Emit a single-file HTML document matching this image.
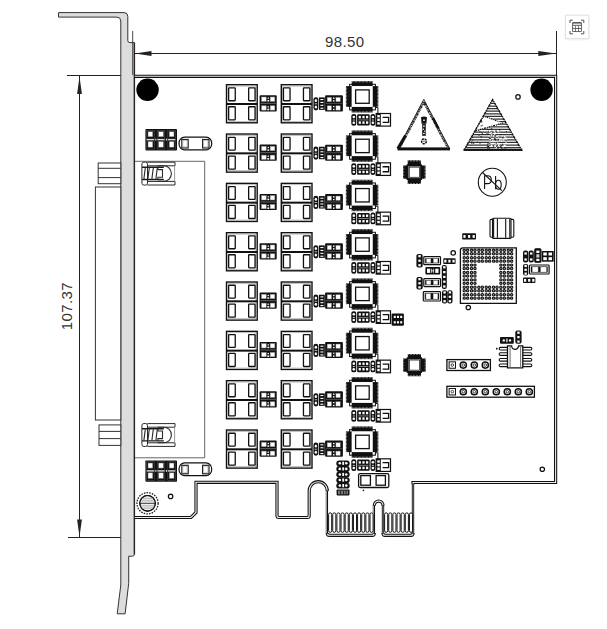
<!DOCTYPE html>
<html><head><meta charset="utf-8"><style>html,body{margin:0;padding:0;background:#fff;width:607px;height:629px;overflow:hidden}svg{display:block}</style></head>
<body><svg width="607" height="629" viewBox="0 0 607 629">
<rect width="607" height="629" fill="#fff"/>
<g stroke="#222" stroke-width="1" fill="none">
<line x1="67" y1="75.5" x2="121" y2="75.5"/>
<line x1="68" y1="537.5" x2="121" y2="537.5"/>
<line x1="79.5" y1="76" x2="79.5" y2="537"/>
<line x1="135" y1="53.5" x2="556" y2="53.5"/>
<line x1="556.5" y1="31" x2="556.5" y2="76"/>
</g>
<g fill="#222">
<path d="M79.5,76.5 L77.1,94 L81.9,94 Z"/>
<path d="M79.5,537 L77.1,519.5 L81.9,519.5 Z"/>
<path d="M134.8,53.5 L151.5,51.1 L151.5,55.9 Z"/>
<path d="M556,53.5 L538.3,51.1 L538.3,55.9 Z"/>
</g>
<text x="344.7" y="47" font-family="Liberation Sans, sans-serif" font-size="15" letter-spacing="0.4" fill="#333" text-anchor="middle">98.50</text>
<text transform="translate(72.2,306.2) rotate(-90)" font-family="Liberation Sans, sans-serif" font-size="15" letter-spacing="0.4" fill="#333" text-anchor="middle">107.37</text>
<path d="M58.5,12.6 H124 Q127.8,12.6 127.8,16.4 V40.6 Q127.8,42.6 129.8,42.6 H134.2 V554.5 Q134.2,556.2 132.5,556.2 H128.7 V583.4 L125.1,613.8 H117.2 L120.8,585 V21 Q120.8,17.1 116.8,17.1 H58.5 Z" fill="#dcdddd" stroke="#333" stroke-width="1"/>
<line x1="132.7" y1="31" x2="132.7" y2="75" stroke="#333" stroke-width="0.9"/>
<line x1="134.5" y1="42.6" x2="134.5" y2="554.6" stroke="#2b2222" stroke-width="1.2"/>
<g stroke="#333" stroke-width="1" fill="#fff">
<rect x="98.2" y="163" width="22.6" height="20.7"/>
<line x1="98.2" y1="168.3" x2="120.8" y2="168.3"/>
<line x1="98.2" y1="177.6" x2="120.8" y2="177.6"/>
<rect x="95.4" y="187" width="25.4" height="233"/>
<rect x="99" y="424.9" width="21.8" height="20.5"/>
<line x1="99" y1="431.4" x2="120.8" y2="431.4"/>
<line x1="99" y1="438.6" x2="120.8" y2="438.6"/>
</g>
<path d="M134.8,76.3 H555.6 V482.5 H413 V533.3 Q413,535.3 411,535.3 H385 Q383,535.3 383,533.3 V505.45 A4.35,4.35 0 0 0 374.3,505.45 V533.3 Q374.3,535.3 372.3,535.3 H329.3 Q327.3,535.3 327.3,533.3 V490.75 A9.05,9.05 0 0 0 309.2,490.75 V515.5 Q309.2,517.5 307.2,517.5 H279 Q277,517.5 277,515.5 V482.3 H196 V512.5 L191,517.5 H134.8" fill="none" stroke="#111" stroke-width="3.2"/>
<path d="M134.8,76.3 H555.6 V482.5 H413 V533.3 Q413,535.3 411,535.3 H385 Q383,535.3 383,533.3 V505.45 A4.35,4.35 0 0 0 374.3,505.45 V533.3 Q374.3,535.3 372.3,535.3 H329.3 Q327.3,535.3 327.3,533.3 V490.75 A9.05,9.05 0 0 0 309.2,490.75 V515.5 Q309.2,517.5 307.2,517.5 H279 Q277,517.5 277,515.5 V482.3 H196 V512.5 L191,517.5 H134.8" fill="none" stroke="#eee" stroke-width="1.1"/>
<rect x="411.30" y="484.2" width="3.4" height="48.8" fill="#fff"/>
<line x1="413" y1="483.6" x2="413" y2="533.8" stroke="#111" stroke-width="1.5"/>
<rect x="325.60" y="491" width="3.4" height="42.0" fill="#fff"/>
<line x1="327.3" y1="490.4" x2="327.3" y2="533.8" stroke="#111" stroke-width="1.5"/>
<rect x="372.60" y="505.6" width="3.4" height="27.4" fill="#fff"/>
<line x1="374.3" y1="505.0" x2="374.3" y2="533.8" stroke="#111" stroke-width="1.5"/>
<rect x="381.30" y="505.6" width="3.4" height="27.4" fill="#fff"/>
<line x1="383" y1="505.0" x2="383" y2="533.8" stroke="#111" stroke-width="1.5"/>
<path d="M135,161.3 H204.7 V457.8 H135" fill="none" stroke="#555" stroke-width="0.9"/>
<g stroke="#111" stroke-width="1" fill="#fff">
<rect x="328.60" y="512.9" width="3.1" height="19.4" rx="1.5"/>
<rect x="332.74" y="512.9" width="3.1" height="19.4" rx="1.5"/>
<rect x="336.88" y="512.9" width="3.1" height="19.4" rx="1.5"/>
<rect x="341.02" y="512.9" width="3.1" height="19.4" rx="1.5"/>
<rect x="345.16" y="512.9" width="3.1" height="19.4" rx="1.5"/>
<rect x="349.30" y="512.9" width="3.1" height="19.4" rx="1.5"/>
<rect x="353.44" y="512.9" width="3.1" height="19.4" rx="1.5"/>
<rect x="357.58" y="512.9" width="3.1" height="19.4" rx="1.5"/>
<rect x="361.72" y="512.9" width="3.1" height="19.4" rx="1.5"/>
<rect x="365.86" y="512.9" width="3.1" height="19.4" rx="1.5"/>
<rect x="370.00" y="512.9" width="3.1" height="19.4" rx="1.5"/>
<rect x="384.60" y="512.9" width="3.1" height="19.4" rx="1.5"/>
<rect x="388.74" y="512.9" width="3.1" height="19.4" rx="1.5"/>
<rect x="392.88" y="512.9" width="3.1" height="19.4" rx="1.5"/>
<rect x="397.02" y="512.9" width="3.1" height="19.4" rx="1.5"/>
<rect x="401.16" y="512.9" width="3.1" height="19.4" rx="1.5"/>
<rect x="405.30" y="512.9" width="3.1" height="19.4" rx="1.5"/>
<rect x="409.44" y="512.9" width="3.1" height="19.4" rx="1.5"/>
</g>
<defs><g id="row"><rect x="226.5" y="0.7" width="30.7" height="38.1" fill="#fff" stroke="#111" stroke-width="1.4"/><rect x="227.90" y="2.1" width="27.9" height="35.3" fill="none" stroke="#999" stroke-width="0.6"/><line x1="226.5" y1="20" x2="257.20" y2="20" stroke="#111" stroke-width="2"/><rect x="228.65" y="3.95" width="6.6" height="12.8" rx="0.5" fill="#fff" stroke="#111" stroke-width="1.3"/><rect x="248.65" y="3.95" width="6.4" height="12.8" rx="0.5" fill="#fff" stroke="#111" stroke-width="1.3"/><rect x="228.65" y="22.75" width="6.6" height="13.1" rx="0.5" fill="#fff" stroke="#111" stroke-width="1.3"/><rect x="248.65" y="22.75" width="6.4" height="13.1" rx="0.5" fill="#fff" stroke="#111" stroke-width="1.3"/><rect x="281.3" y="0.7" width="30.7" height="38.1" fill="#fff" stroke="#111" stroke-width="1.4"/><rect x="282.70" y="2.1" width="27.9" height="35.3" fill="none" stroke="#999" stroke-width="0.6"/><line x1="281.3" y1="20" x2="312.00" y2="20" stroke="#111" stroke-width="2"/><rect x="283.45" y="3.95" width="6.6" height="12.8" rx="0.5" fill="#fff" stroke="#111" stroke-width="1.3"/><rect x="303.45" y="3.95" width="6.4" height="12.8" rx="0.5" fill="#fff" stroke="#111" stroke-width="1.3"/><rect x="283.45" y="22.75" width="6.6" height="13.1" rx="0.5" fill="#fff" stroke="#111" stroke-width="1.3"/><rect x="303.45" y="22.75" width="6.4" height="13.1" rx="0.5" fill="#fff" stroke="#111" stroke-width="1.3"/><rect x="259.6" y="11.25" width="17.1" height="16.2" rx="0.9" fill="#111"/><line x1="260.5" y1="19.35" x2="275.8" y2="19.35" stroke="#999" stroke-width="0.6"/><rect x="261.6" y="13.0" width="4.6" height="4.3" fill="#fff" stroke="#999" stroke-width="0.5"/><rect x="270.2" y="13.0" width="4.6" height="4.3" fill="#fff" stroke="#999" stroke-width="0.5"/><rect x="261.6" y="21.8" width="4.6" height="4.3" fill="#fff" stroke="#999" stroke-width="0.5"/><rect x="270.2" y="21.8" width="4.6" height="4.3" fill="#fff" stroke="#999" stroke-width="0.5"/><g fill="#fff"><rect x="267.6" y="13.6" width="1.4" height="1.2"/><rect x="267.4" y="16" width="1.8" height="1.5"/><rect x="267.5" y="22.3" width="1.5" height="1.2"/><rect x="267.3" y="24.7" width="1.9" height="1.6"/></g><rect x="313.4" y="13.2" width="4.9" height="13.2" rx="2.4" fill="#111"/><ellipse cx="315.85" cy="16.6" rx="1.2" ry="1.5" fill="#fff"/><ellipse cx="315.85" cy="23" rx="1.2" ry="1.5" fill="#fff"/><rect x="314.6" y="19.5" width="2.5" height="0.7" fill="#fff"/><rect x="318.9" y="13.4" width="5.9" height="12.5" fill="#111"/><rect x="320.4" y="15.0" width="3" height="1.1" fill="#fff"/><rect x="320.4" y="17.9" width="3" height="1.1" fill="#fff"/><rect x="320.4" y="20.8" width="3" height="1.1" fill="#fff"/><rect x="320.4" y="23.7" width="3" height="1.1" fill="#fff"/><rect x="325.1" y="11.3" width="17.8" height="16.1" rx="1" fill="#111"/><rect x="327.2" y="13.4" width="4.3" height="4.3" fill="#fff" stroke="#888" stroke-width="0.4"/><rect x="335.9" y="13.4" width="4.3" height="4.3" fill="#fff" stroke="#888" stroke-width="0.4"/><rect x="327.2" y="21.8" width="4.3" height="4.3" fill="#fff" stroke="#888" stroke-width="0.4"/><rect x="335.9" y="21.8" width="4.3" height="4.3" fill="#fff" stroke="#888" stroke-width="0.4"/><g fill="#fff"><rect x="333" y="13.5" width="1.5" height="1.4"/><rect x="333" y="16.2" width="1.5" height="1.4"/><rect x="333" y="22" width="1.5" height="1.2"/><rect x="333" y="24.8" width="1.5" height="1.4"/></g><line x1="326" y1="19.4" x2="342.3" y2="19.4" stroke="#777" stroke-width="0.6"/><g fill="#111"><rect x="351.7" y="-2.9" width="20.9" height="5.0"/><rect x="351.7" y="22.8" width="20.9" height="5.7"/><rect x="345.9" y="2.1" width="5.8" height="20.7"/><rect x="372.6" y="2.1" width="5.7" height="20.7"/></g><g fill="#fff"><rect x="352.40" y="-2.9" width="0.4" height="1.2"/><rect x="352.40" y="27.3" width="0.4" height="1.2"/><rect x="345.9" y="2.80" width="1.2" height="0.4"/><rect x="377.1" y="2.80" width="1.2" height="0.4"/><rect x="353.78" y="-2.9" width="0.4" height="1.2"/><rect x="353.78" y="27.3" width="0.4" height="1.2"/><rect x="345.9" y="4.18" width="1.2" height="0.4"/><rect x="377.1" y="4.18" width="1.2" height="0.4"/><rect x="355.16" y="-2.9" width="0.4" height="1.2"/><rect x="355.16" y="27.3" width="0.4" height="1.2"/><rect x="345.9" y="5.56" width="1.2" height="0.4"/><rect x="377.1" y="5.56" width="1.2" height="0.4"/><rect x="356.54" y="-2.9" width="0.4" height="1.2"/><rect x="356.54" y="27.3" width="0.4" height="1.2"/><rect x="345.9" y="6.94" width="1.2" height="0.4"/><rect x="377.1" y="6.94" width="1.2" height="0.4"/><rect x="357.92" y="-2.9" width="0.4" height="1.2"/><rect x="357.92" y="27.3" width="0.4" height="1.2"/><rect x="345.9" y="8.32" width="1.2" height="0.4"/><rect x="377.1" y="8.32" width="1.2" height="0.4"/><rect x="359.30" y="-2.9" width="0.4" height="1.2"/><rect x="359.30" y="27.3" width="0.4" height="1.2"/><rect x="345.9" y="9.70" width="1.2" height="0.4"/><rect x="377.1" y="9.70" width="1.2" height="0.4"/><rect x="360.68" y="-2.9" width="0.4" height="1.2"/><rect x="360.68" y="27.3" width="0.4" height="1.2"/><rect x="345.9" y="11.08" width="1.2" height="0.4"/><rect x="377.1" y="11.08" width="1.2" height="0.4"/><rect x="362.06" y="-2.9" width="0.4" height="1.2"/><rect x="362.06" y="27.3" width="0.4" height="1.2"/><rect x="345.9" y="12.46" width="1.2" height="0.4"/><rect x="377.1" y="12.46" width="1.2" height="0.4"/><rect x="363.44" y="-2.9" width="0.4" height="1.2"/><rect x="363.44" y="27.3" width="0.4" height="1.2"/><rect x="345.9" y="13.84" width="1.2" height="0.4"/><rect x="377.1" y="13.84" width="1.2" height="0.4"/><rect x="364.82" y="-2.9" width="0.4" height="1.2"/><rect x="364.82" y="27.3" width="0.4" height="1.2"/><rect x="345.9" y="15.22" width="1.2" height="0.4"/><rect x="377.1" y="15.22" width="1.2" height="0.4"/><rect x="366.20" y="-2.9" width="0.4" height="1.2"/><rect x="366.20" y="27.3" width="0.4" height="1.2"/><rect x="345.9" y="16.60" width="1.2" height="0.4"/><rect x="377.1" y="16.60" width="1.2" height="0.4"/><rect x="367.58" y="-2.9" width="0.4" height="1.2"/><rect x="367.58" y="27.3" width="0.4" height="1.2"/><rect x="345.9" y="17.98" width="1.2" height="0.4"/><rect x="377.1" y="17.98" width="1.2" height="0.4"/><rect x="368.96" y="-2.9" width="0.4" height="1.2"/><rect x="368.96" y="27.3" width="0.4" height="1.2"/><rect x="345.9" y="19.36" width="1.2" height="0.4"/><rect x="377.1" y="19.36" width="1.2" height="0.4"/><rect x="370.34" y="-2.9" width="0.4" height="1.2"/><rect x="370.34" y="27.3" width="0.4" height="1.2"/><rect x="345.9" y="20.74" width="1.2" height="0.4"/><rect x="377.1" y="20.74" width="1.2" height="0.4"/><rect x="371.72" y="-2.9" width="0.4" height="1.2"/><rect x="371.72" y="27.3" width="0.4" height="1.2"/><rect x="345.9" y="22.12" width="1.2" height="0.4"/><rect x="377.1" y="22.12" width="1.2" height="0.4"/></g><rect x="349.6" y="0.3" width="25.8" height="25.6" fill="none" stroke="#111" stroke-width="1"/><rect x="351.9" y="2.3" width="20.5" height="20.3" fill="#fff"/><rect x="355.6" y="5.9" width="13.6" height="13.4" fill="#fff" stroke="#111" stroke-width="1.3"/><path d="M375.4,23.5 H377.9 V29.5" fill="none" stroke="#111" stroke-width="1"/><rect x="351.3" y="29.9" width="5" height="11.8" rx="2.2" fill="#111"/><circle cx="353.8" cy="33" r="1.3" fill="#fff"/><circle cx="353.8" cy="38.7" r="1.3" fill="#fff"/><rect x="352.8" y="35.6" width="2" height="0.8" fill="#fff"/><rect x="357.1" y="30.3" width="12.6" height="11.2" rx="1.2" fill="#111"/><rect x="358.7" y="31.9" width="2.2" height="2.4" fill="#fff"/><rect x="362.4" y="31.9" width="2.2" height="2.4" fill="#fff"/><rect x="366.0" y="31.9" width="2.2" height="2.4" fill="#fff"/><rect x="358.7" y="37.4" width="2.2" height="2.4" fill="#fff"/><rect x="362.4" y="37.4" width="2.2" height="2.4" fill="#fff"/><rect x="366.0" y="37.4" width="2.2" height="2.4" fill="#fff"/><rect x="358.3" y="35.6" width="10.2" height="0.7" fill="#aaa"/><rect x="370.5" y="29.9" width="4.8" height="11.8" rx="2.2" fill="#111"/><circle cx="372.9" cy="33" r="1.3" fill="#fff"/><circle cx="372.9" cy="38.7" r="1.3" fill="#fff"/><rect x="371.9" y="35.6" width="2" height="0.8" fill="#fff"/><rect x="376.2" y="29.5" width="14.3" height="12.6" fill="#fff" stroke="#111" stroke-width="1.2"/><rect x="376.2" y="29.5" width="4.6" height="12.6" fill="#111"/><rect x="377.3" y="31" width="2.5" height="2.4" fill="#fff"/><rect x="377.3" y="34.6" width="2.5" height="2.4" fill="#fff"/><rect x="377.3" y="38.2" width="2.5" height="2.4" fill="#fff"/><path d="M382.6,33.4 H388.6 V38.4 H382.6" fill="none" stroke="#111" stroke-width="1.3"/></g></defs>
<use href="#row" y="84.00"/>
<use href="#row" y="133.33"/>
<use href="#row" y="182.66"/>
<use href="#row" y="231.99"/>
<use href="#row" y="281.32"/>
<use href="#row" y="330.65"/>
<use href="#row" y="379.98"/>
<use href="#row" y="429.31"/>
<circle cx="147.55" cy="89.8" r="11.2" fill="#000"/>
<circle cx="541.6" cy="89.8" r="11.2" fill="#000"/>
<circle cx="147.55" cy="503.3" r="7.8" fill="#eee" stroke="#111" stroke-width="1.1"/>
<g stroke="#bbb" stroke-width="1.3">
<line x1="140.5" y1="498.5" x2="154.6" y2="498.5"/>
<line x1="140.5" y1="500.8" x2="154.6" y2="500.8"/>
<line x1="140.5" y1="505.8" x2="154.6" y2="505.8"/>
<line x1="140.5" y1="508.1" x2="154.6" y2="508.1"/>
</g>
<line x1="139.7" y1="503.3" x2="155.4" y2="503.3" stroke="#222" stroke-width="0.9"/>
<circle cx="147.55" cy="503.3" r="7.8" fill="none" stroke="#111" stroke-width="1.1"/>
<circle cx="147.55" cy="503.3" r="10.6" fill="none" stroke="#222" stroke-width="1.3" stroke-dasharray="1.6 1.1"/>
<circle cx="170.6" cy="496.4" r="2.2" fill="#fff" stroke="#111" stroke-width="1.25"/>
<circle cx="542.3" cy="469.3" r="2.2" fill="#fff" stroke="#111" stroke-width="1.25"/>
<circle cx="518" cy="96.9" r="2.2" fill="#fff" stroke="#111" stroke-width="1.25"/>
<circle cx="453.2" cy="252.9" r="2.2" fill="#fff" stroke="#111" stroke-width="1.25"/>
<circle cx="468.3" cy="307.5" r="2.2" fill="#fff" stroke="#111" stroke-width="1.25"/>
<rect x="145.40" y="129.1" width="31.6" height="21.3" rx="0.8" fill="#111"/><rect x="148.00" y="131.70" width="4.8" height="5.1" fill="#fff" stroke="#666" stroke-width="0.5"/><rect x="148.00" y="141.50" width="4.8" height="5.7" fill="#fff" stroke="#666" stroke-width="0.5"/><rect x="146.60" y="138.90" width="7.6" height="1.4" fill="#ddd"/><rect x="146.60" y="130.50" width="7.6" height="18.6" fill="none" stroke="#555" stroke-width="0.5"/><rect x="158.60" y="131.70" width="4.8" height="5.1" fill="#fff" stroke="#666" stroke-width="0.5"/><rect x="158.60" y="141.50" width="4.8" height="5.7" fill="#fff" stroke="#666" stroke-width="0.5"/><rect x="157.20" y="138.90" width="7.6" height="1.4" fill="#ddd"/><rect x="157.20" y="130.50" width="7.6" height="18.6" fill="none" stroke="#555" stroke-width="0.5"/><rect x="169.20" y="131.70" width="4.8" height="5.1" fill="#fff" stroke="#666" stroke-width="0.5"/><rect x="169.20" y="141.50" width="4.8" height="5.7" fill="#fff" stroke="#666" stroke-width="0.5"/><rect x="167.80" y="138.90" width="7.6" height="1.4" fill="#ddd"/><rect x="167.80" y="130.50" width="7.6" height="18.6" fill="none" stroke="#555" stroke-width="0.5"/><rect x="155.30" y="138.70" width="1" height="1.8" fill="#fff"/><rect x="165.90" y="138.70" width="1" height="1.8" fill="#fff"/>
<rect x="179.00" y="137.10" width="32.7" height="12.8" rx="5.6" ry="6.2" fill="#fff" stroke="#111" stroke-width="1.2"/><rect x="181.80" y="139.50" width="6.4" height="8.5" fill="#fff" stroke="#222" stroke-width="1.2"/><rect x="202.60" y="139.50" width="6.4" height="8.5" fill="#fff" stroke="#222" stroke-width="1.2"/><rect x="183.00" y="140.70" width="4" height="6.1" fill="none" stroke="#aaa" stroke-width="0.5"/><rect x="203.80" y="140.70" width="4" height="6.1" fill="none" stroke="#aaa" stroke-width="0.5"/>
<rect x="145.40" y="460.4" width="31.6" height="21.3" rx="0.8" fill="#111"/><rect x="148.00" y="463.00" width="4.8" height="5.1" fill="#fff" stroke="#666" stroke-width="0.5"/><rect x="148.00" y="472.80" width="4.8" height="5.7" fill="#fff" stroke="#666" stroke-width="0.5"/><rect x="146.60" y="470.20" width="7.6" height="1.4" fill="#ddd"/><rect x="146.60" y="461.80" width="7.6" height="18.6" fill="none" stroke="#555" stroke-width="0.5"/><rect x="158.60" y="463.00" width="4.8" height="5.1" fill="#fff" stroke="#666" stroke-width="0.5"/><rect x="158.60" y="472.80" width="4.8" height="5.7" fill="#fff" stroke="#666" stroke-width="0.5"/><rect x="157.20" y="470.20" width="7.6" height="1.4" fill="#ddd"/><rect x="157.20" y="461.80" width="7.6" height="18.6" fill="none" stroke="#555" stroke-width="0.5"/><rect x="169.20" y="463.00" width="4.8" height="5.1" fill="#fff" stroke="#666" stroke-width="0.5"/><rect x="169.20" y="472.80" width="4.8" height="5.7" fill="#fff" stroke="#666" stroke-width="0.5"/><rect x="167.80" y="470.20" width="7.6" height="1.4" fill="#ddd"/><rect x="167.80" y="461.80" width="7.6" height="18.6" fill="none" stroke="#555" stroke-width="0.5"/><rect x="155.30" y="470.00" width="1" height="1.8" fill="#fff"/><rect x="165.90" y="470.00" width="1" height="1.8" fill="#fff"/>
<rect x="179.00" y="462.90" width="32.7" height="12.8" rx="5.6" ry="6.2" fill="#fff" stroke="#111" stroke-width="1.2"/><rect x="181.80" y="465.30" width="6.4" height="8.5" fill="#fff" stroke="#222" stroke-width="1.2"/><rect x="202.60" y="465.30" width="6.4" height="8.5" fill="#fff" stroke="#222" stroke-width="1.2"/><rect x="183.00" y="466.50" width="4" height="6.1" fill="none" stroke="#aaa" stroke-width="0.5"/><rect x="203.80" y="466.50" width="4" height="6.1" fill="none" stroke="#aaa" stroke-width="0.5"/>
<g transform="translate(141.4,161.6)" fill="none" stroke="#2a2a2a" stroke-width="1"><rect x="0.5" y="0.5" width="5.6" height="23" rx="2" fill="#fff"/><path d="M6,0.6 H33.6 V4.2 H6 M6,19.8 H33.6 V23.4 H6"/><line x1="33.2" y1="4.2" x2="33.2" y2="19.8" stroke="#999"/><path d="M0.6,5.7 H22.4 M0.6,17.9 H22.4" stroke-width="1.4" stroke="#1a1a1a"/><path d="M16.2,4.2 H22.4 A7.6,7.8 0 0 1 22.4,19.8 H16.2" stroke-width="1.1"/><path d="M16.5,5.7 V8 H21.1 V15.6 H16.5 V17.9" stroke-width="1.1"/><line x1="3.9" y1="6.3" x2="2.5" y2="17.3" stroke-width="1.1"/><line x1="7.9" y1="6.3" x2="6.5" y2="17.3" stroke-width="1.1"/><line x1="11.9" y1="6.3" x2="10.5" y2="17.3" stroke-width="1.1"/><line x1="15.9" y1="6.3" x2="14.5" y2="17.3" stroke-width="1.1"/></g>
<g transform="translate(141.4,423.0)" fill="none" stroke="#2a2a2a" stroke-width="1"><rect x="0.5" y="0.5" width="5.6" height="23" rx="2" fill="#fff"/><path d="M6,0.6 H33.6 V4.2 H6 M6,19.8 H33.6 V23.4 H6"/><line x1="33.2" y1="4.2" x2="33.2" y2="19.8" stroke="#999"/><path d="M0.6,5.7 H22.4 M0.6,17.9 H22.4" stroke-width="1.4" stroke="#1a1a1a"/><path d="M16.2,4.2 H22.4 A7.6,7.8 0 0 1 22.4,19.8 H16.2" stroke-width="1.1"/><path d="M16.5,5.7 V8 H21.1 V15.6 H16.5 V17.9" stroke-width="1.1"/><line x1="3.9" y1="6.3" x2="2.5" y2="17.3" stroke-width="1.1"/><line x1="7.9" y1="6.3" x2="6.5" y2="17.3" stroke-width="1.1"/><line x1="11.9" y1="6.3" x2="10.5" y2="17.3" stroke-width="1.1"/><line x1="15.9" y1="6.3" x2="14.5" y2="17.3" stroke-width="1.1"/></g>
<path d="M398,148.6 L423.8,99.4 L449.6,148.6" fill="none" stroke="#1a1a1a" stroke-width="0.9" stroke-linejoin="miter"/>
<path d="M399.9,147.2 L423.8,101.9 L447.7,147.2" fill="none" stroke="#222" stroke-width="2.4" stroke-dasharray="1.4 0.5 0.8 0.4 1.9 0.5 0.6 0.5 1.1 0.6" stroke-linejoin="miter"/>
<path d="M397.8,148.5 L405.5,135.5" stroke="#111" stroke-width="2.8"/>
<path d="M433,118 L438.5,128.5" stroke="#111" stroke-width="2.4"/>
<rect x="397.5" y="147.4" width="52.5" height="3" fill="#111"/>
<path d="M421,117.3 Q424,115.8 427,117.3 L426.4,123.8 H421.6 Z" fill="#111"/>
<path d="M422.2,123.8 H425.8 V135.8 H422.2 Z" fill="#1a1a1a"/>
<g fill="#fff"><rect x="423.3" y="119.5" width="1.4" height="1.6"/><rect x="423" y="125.6" width="1.8" height="1.1"/><rect x="422.6" y="128.6" width="1.4" height="1.2"/><rect x="424.2" y="130.6" width="1.2" height="1.2"/><rect x="423" y="133" width="1.8" height="1"/></g>
<circle cx="424" cy="141.3" r="2.4" fill="#fff" stroke="#111" stroke-width="1.5" stroke-dasharray="2 0.7"/>
<circle cx="424" cy="141.3" r="0.7" fill="#333"/>
<defs><clipPath id="esd"><path d="M492.6,99 L463.5,150.4 H522.3 Z"/></clipPath></defs>
<g clip-path="url(#esd)">
<rect x="460" y="97" width="65" height="56" fill="#fff"/>
<line x1="460" y1="100.80" x2="525" y2="100.80" stroke="#333" stroke-width="1.25"/>
<line x1="460" y1="103.40" x2="525" y2="103.40" stroke="#333" stroke-width="1.25"/>
<line x1="460" y1="106.00" x2="525" y2="106.00" stroke="#333" stroke-width="1.25"/>
<line x1="460" y1="108.60" x2="525" y2="108.60" stroke="#333" stroke-width="1.25"/>
<line x1="460" y1="111.20" x2="525" y2="111.20" stroke="#333" stroke-width="1.25"/>
<line x1="460" y1="113.80" x2="525" y2="113.80" stroke="#333" stroke-width="1.25"/>
<line x1="460" y1="116.40" x2="525" y2="116.40" stroke="#333" stroke-width="1.25"/>
<line x1="460" y1="119.00" x2="525" y2="119.00" stroke="#333" stroke-width="1.25"/>
<line x1="460" y1="121.60" x2="525" y2="121.60" stroke="#333" stroke-width="1.25"/>
<line x1="460" y1="124.20" x2="525" y2="124.20" stroke="#333" stroke-width="1.25"/>
<line x1="460" y1="126.80" x2="525" y2="126.80" stroke="#333" stroke-width="1.25"/>
<line x1="460" y1="129.40" x2="525" y2="129.40" stroke="#333" stroke-width="1.25"/>
<line x1="460" y1="132.00" x2="525" y2="132.00" stroke="#333" stroke-width="1.25"/>
<line x1="460" y1="134.60" x2="525" y2="134.60" stroke="#333" stroke-width="1.25"/>
<line x1="460" y1="137.20" x2="525" y2="137.20" stroke="#333" stroke-width="1.25"/>
<line x1="460" y1="139.80" x2="525" y2="139.80" stroke="#333" stroke-width="1.25"/>
<line x1="460" y1="142.40" x2="525" y2="142.40" stroke="#333" stroke-width="1.25"/>
<line x1="460" y1="145.00" x2="525" y2="145.00" stroke="#333" stroke-width="1.25"/>
<line x1="460" y1="147.60" x2="525" y2="147.60" stroke="#333" stroke-width="1.25"/>
<line x1="460" y1="150.20" x2="525" y2="150.20" stroke="#333" stroke-width="1.25"/>
<path d="M484,116.2 L498,121.3 L503,123.2 L476,131 L475.5,128.5 Z" fill="#fff"/>
<path d="M475,131 L503,123" fill="none" stroke="#111" stroke-width="1.3" stroke-dasharray="2 0.9 1 0.8"/>
<path d="M476,128 L484,116.2 L498,121.3" fill="none" stroke="#111" stroke-width="1.1" stroke-dasharray="1.6 1 0.8 0.9"/>
<g fill="#fff">
<rect x="493.8" y="132.9" width="1.4" height="0.9"/>
<rect x="497.6" y="136.9" width="0.9" height="1.2"/>
<rect x="488.7" y="138.2" width="0.9" height="0.9"/>
<rect x="495.6" y="145.7" width="0.9" height="1.0"/>
<rect x="499.3" y="148.0" width="1.3" height="1.1"/>
<rect x="505.6" y="130.9" width="1.6" height="1.0"/>
<rect x="490.6" y="132.2" width="1.1" height="1.5"/>
<rect x="491.3" y="141.1" width="1.4" height="1.1"/>
<rect x="497.9" y="131.2" width="0.9" height="1.0"/>
<rect x="500.2" y="138.1" width="1.1" height="1.3"/>
<rect x="496.2" y="135.7" width="1.5" height="1.4"/>
<rect x="492.4" y="140.9" width="1.3" height="1.5"/>
<rect x="501.1" y="135.5" width="1.7" height="0.9"/>
<rect x="495.5" y="144.4" width="0.9" height="1.2"/>
<rect x="488.7" y="142.7" width="1.5" height="1.3"/>
<rect x="503.8" y="136.0" width="1.4" height="1.3"/>
<rect x="498.4" y="138.7" width="1.6" height="1.6"/>
<rect x="496.5" y="142.6" width="0.9" height="1.4"/>
<rect x="499.6" y="148.9" width="1.5" height="1.0"/>
<rect x="494.9" y="142.7" width="0.8" height="1.2"/>
<rect x="491.0" y="132.2" width="0.9" height="1.4"/>
<rect x="490.3" y="134.7" width="1.2" height="1.5"/>
<rect x="489.5" y="138.5" width="1.3" height="1.5"/>
<rect x="502.7" y="146.4" width="1.1" height="1.1"/>
<rect x="494.5" y="146.8" width="1.7" height="0.9"/>
<rect x="491.2" y="134.4" width="1.0" height="1.2"/>
<rect x="498.6" y="135.0" width="0.8" height="1.1"/>
<rect x="494.6" y="140.8" width="1.7" height="1.4"/>
<rect x="497.3" y="141.7" width="1.4" height="0.8"/>
<rect x="504.2" y="144.8" width="1.6" height="1.4"/>
<rect x="495.1" y="137.6" width="0.9" height="1.3"/>
<rect x="489.1" y="131.3" width="1.0" height="0.9"/>
<rect x="494.1" y="131.0" width="0.8" height="0.9"/>
<rect x="489.8" y="136.9" width="0.8" height="1.5"/>
<rect x="499.1" y="132.8" width="1.0" height="1.1"/>
<rect x="494.6" y="132.3" width="1.6" height="1.6"/>
<rect x="496.4" y="139.2" width="0.9" height="0.9"/>
<rect x="494.2" y="135.0" width="1.5" height="0.9"/>
<rect x="488.4" y="148.1" width="1.3" height="0.9"/>
<rect x="497.8" y="130.5" width="1.3" height="1.6"/>
<rect x="503.5" y="143.2" width="1.0" height="1.1"/>
<rect x="491.0" y="144.7" width="1.3" height="1.4"/>
<rect x="493.9" y="134.2" width="1.5" height="1.6"/>
<rect x="503.3" y="145.3" width="1.5" height="1.4"/>
<rect x="492.1" y="139.8" width="1.1" height="0.8"/>
<rect x="488.5" y="135.3" width="1.0" height="1.4"/>
<rect x="505.2" y="138.5" width="1.6" height="1.6"/>
<rect x="505.2" y="136.9" width="1.0" height="1.0"/>
<rect x="491.5" y="133.9" width="1.4" height="1.5"/>
<rect x="503.1" y="139.1" width="1.4" height="1.4"/>
<rect x="489.5" y="142.6" width="1.6" height="1.4"/>
<rect x="501.5" y="139.1" width="1.0" height="1.4"/>
<rect x="494.0" y="145.2" width="1.7" height="1.1"/>
<rect x="495.2" y="148.0" width="1.5" height="0.9"/>
<rect x="490.3" y="132.9" width="1.6" height="1.4"/>
<rect x="490.6" y="145.7" width="1.7" height="1.3"/>
<rect x="494.3" y="140.4" width="0.9" height="0.8"/>
<rect x="505.5" y="142.3" width="1.3" height="1.5"/>
<rect x="495.8" y="146.6" width="1.5" height="1.0"/>
<rect x="492.5" y="135.6" width="1.0" height="1.3"/>
<rect x="492.7" y="138.0" width="0.9" height="1.5"/>
<rect x="494.4" y="138.7" width="1.3" height="1.5"/>
<rect x="495.6" y="147.4" width="1.3" height="1.2"/>
<rect x="497.4" y="130.4" width="1.2" height="0.9"/>
<rect x="488.1" y="145.2" width="1.0" height="1.2"/>
<rect x="501.1" y="140.6" width="1.1" height="1.2"/>
<rect x="498.0" y="144.9" width="0.9" height="1.2"/>
<rect x="492.5" y="135.3" width="1.5" height="1.2"/>
<rect x="498.1" y="144.4" width="1.6" height="1.2"/>
<rect x="499.0" y="139.6" width="1.3" height="1.4"/>
</g>
<g fill="#222">
<rect x="495.0" y="139.2" width="1.1" height="1.5"/>
<rect x="500.0" y="146.4" width="1.5" height="0.9"/>
<rect x="497.2" y="147.8" width="1.4" height="0.8"/>
<rect x="488.4" y="137.3" width="0.8" height="0.9"/>
<rect x="487.5" y="142.1" width="1.3" height="1.4"/>
<rect x="489.1" y="143.0" width="1.2" height="0.8"/>
<rect x="503.7" y="148.3" width="0.9" height="1.5"/>
<rect x="494.0" y="138.2" width="1.5" height="1.4"/>
<rect x="489.2" y="137.1" width="1.1" height="1.0"/>
<rect x="489.9" y="134.7" width="1.3" height="0.7"/>
<rect x="497.1" y="137.2" width="0.7" height="1.0"/>
<rect x="498.5" y="138.8" width="0.8" height="1.5"/>
<rect x="501.8" y="148.4" width="0.8" height="0.9"/>
<rect x="486.8" y="144.4" width="0.9" height="0.8"/>
<rect x="494.4" y="147.1" width="1.4" height="0.9"/>
<rect x="489.0" y="147.3" width="1.2" height="1.3"/>
<rect x="487.8" y="129.2" width="1.3" height="1.0"/>
<rect x="487.4" y="147.7" width="1.2" height="1.3"/>
<rect x="487.7" y="146.0" width="0.8" height="1.4"/>
<rect x="495.1" y="135.1" width="1.1" height="1.4"/>
<rect x="491.4" y="130.7" width="1.1" height="0.9"/>
<rect x="488.2" y="131.4" width="0.7" height="0.9"/>
<rect x="492.2" y="134.4" width="1.3" height="0.9"/>
<rect x="496.0" y="131.7" width="1.0" height="0.7"/>
<rect x="491.0" y="128.3" width="1.3" height="1.1"/>
<rect x="489.8" y="138.0" width="1.4" height="0.8"/>
<rect x="502.4" y="137.1" width="1.1" height="1.4"/>
<rect x="493.9" y="138.6" width="1.3" height="1.5"/>
<rect x="492.9" y="145.5" width="1.3" height="1.2"/>
<rect x="494.1" y="135.3" width="0.7" height="0.8"/>
<rect x="487.4" y="143.6" width="0.9" height="0.8"/>
<rect x="487.7" y="145.7" width="1.4" height="1.2"/>
<rect x="491.6" y="133.1" width="0.9" height="1.1"/>
<rect x="489.2" y="137.4" width="0.9" height="1.5"/>
<rect x="505.5" y="139.5" width="0.9" height="1.5"/>
<rect x="492.2" y="135.5" width="0.7" height="1.0"/>
<rect x="495.5" y="138.6" width="0.9" height="1.1"/>
<rect x="486.1" y="133.5" width="0.8" height="1.0"/>
<rect x="486.8" y="128.5" width="0.9" height="0.9"/>
<rect x="497.7" y="139.1" width="1.3" height="1.2"/>
<rect x="500.3" y="146.5" width="1.0" height="1.0"/>
<rect x="505.7" y="131.1" width="1.3" height="1.2"/>
<rect x="486.9" y="145.5" width="1.4" height="1.2"/>
<rect x="500.7" y="145.1" width="0.8" height="1.1"/>
<rect x="496.1" y="145.5" width="1.3" height="1.4"/>
<rect x="497.7" y="146.7" width="1.2" height="1.3"/>
<rect x="490.6" y="128.7" width="0.8" height="1.0"/>
<rect x="488.1" y="145.6" width="1.1" height="1.2"/>
<rect x="498.5" y="142.3" width="1.1" height="0.7"/>
<rect x="502.0" y="143.7" width="1.1" height="1.1"/>
<rect x="499.2" y="129.4" width="1.3" height="0.9"/>
<rect x="487.5" y="133.6" width="1.3" height="0.9"/>
<rect x="500.8" y="148.5" width="1.1" height="1.0"/>
<rect x="495.6" y="142.4" width="1.3" height="1.2"/>
<rect x="498.9" y="129.6" width="0.8" height="0.9"/>
<rect x="500.9" y="134.4" width="1.2" height="0.7"/>
<rect x="487.2" y="133.6" width="1.2" height="1.3"/>
<rect x="499.5" y="134.1" width="1.1" height="1.1"/>
<rect x="495.3" y="130.5" width="1.4" height="0.9"/>
<rect x="505.6" y="147.7" width="0.7" height="1.1"/>
<rect x="479.5" y="143.2" width="1" height="1"/>
<rect x="474.3" y="125.0" width="1" height="1"/>
<rect x="470.9" y="142.6" width="1" height="1"/>
<rect x="470.9" y="133.1" width="1" height="1"/>
<rect x="470.0" y="131.6" width="1" height="1"/>
<rect x="481.3" y="121.4" width="1" height="1"/>
<rect x="479.5" y="131.2" width="1" height="1"/>
<rect x="480.4" y="136.3" width="1" height="1"/>
<rect x="471.2" y="141.3" width="1" height="1"/>
<rect x="474.8" y="118.6" width="1" height="1"/>
<rect x="468.1" y="130.8" width="1" height="1"/>
<rect x="474.3" y="125.9" width="1" height="1"/>
<rect x="470.0" y="126.9" width="1" height="1"/>
<rect x="472.4" y="139.8" width="1" height="1"/>
<rect x="468.0" y="137.5" width="1" height="1"/>
<rect x="479.7" y="121.1" width="1" height="1"/>
<rect x="481.0" y="136.5" width="1" height="1"/>
<rect x="480.6" y="125.5" width="1" height="1"/>
<rect x="473.2" y="128.2" width="1" height="1"/>
<rect x="482.0" y="133.3" width="1" height="1"/>
<rect x="473.0" y="129.1" width="1" height="1"/>
<rect x="471.9" y="119.3" width="1" height="1"/>
<rect x="469.4" y="139.7" width="1" height="1"/>
<rect x="472.0" y="142.3" width="1" height="1"/>
<rect x="471.5" y="124.9" width="1" height="1"/>
<rect x="475.2" y="122.9" width="1" height="1"/>
<rect x="473.2" y="142.9" width="1" height="1"/>
<rect x="480.4" y="139.1" width="1" height="1"/>
<rect x="476.8" y="141.7" width="1" height="1"/>
<rect x="481.2" y="132.3" width="1" height="1"/>
<rect x="478.1" y="119.3" width="1" height="1"/>
<rect x="478.3" y="129.7" width="1" height="1"/>
<rect x="478.5" y="134.8" width="1" height="1"/>
<rect x="472.0" y="119.3" width="1" height="1"/>
<rect x="481.0" y="121.3" width="1" height="1"/>
<rect x="474.6" y="126.9" width="1" height="1"/>
<rect x="472.2" y="137.2" width="1" height="1"/>
<rect x="481.7" y="124.8" width="1" height="1"/>
<rect x="477.2" y="125.8" width="1" height="1"/>
<rect x="475.8" y="128.3" width="1" height="1"/>
</g>
</g>
<path d="M492.6,99.6 L464.2,150 H521.6 Z" fill="none" stroke="#111" stroke-width="1.4" stroke-dasharray="2.5 0.7 1.2 0.8 3 0.6"/>
<rect x="463.5" y="148.8" width="58.8" height="2" fill="#111"/>
<circle cx="492.3" cy="182.3" r="14" fill="none" stroke="#111" stroke-width="1.1"/>
<path d="M484.6,189 V175.8 H487.5 Q491.3,175.8 491.3,179.7 Q491.3,183.6 487.5,183.6 H484.6" fill="none" stroke="#111" stroke-width="1.1"/>
<path d="M495.6,176 V189.2 M495.6,184.5 Q495.6,180.3 498.4,180.3 Q501.2,180.3 501.2,184.7 Q501.2,189.2 498.4,189.2 Q495.6,189.2 495.6,185" fill="none" stroke="#111" stroke-width="1.1"/>
<line x1="482.5" y1="172.5" x2="501.8" y2="190.7" stroke="#111" stroke-width="1.1"/>
<path d="M407.70,160.30 H420.90 V164.60 H421.90 V165.60 H425.60 V178.80 H421.90 V179.80 H420.90 V184.10 H407.70 V179.80 H406.70 V178.80 H403.00 V165.60 H406.70 V164.60 H407.70 Z" fill="#111"/><rect x="406.70" y="164.60" width="15.20" height="15.20" fill="#111"/><g fill="#fff"><rect x="408.50" y="160.30" width="0.45" height="1.1"/><rect x="408.50" y="183.00" width="0.45" height="1.1"/><rect x="403.00" y="166.40" width="1.1" height="0.45"/><rect x="424.50" y="166.40" width="1.1" height="0.45"/><rect x="410.00" y="160.30" width="0.45" height="1.1"/><rect x="410.00" y="183.00" width="0.45" height="1.1"/><rect x="403.00" y="167.90" width="1.1" height="0.45"/><rect x="424.50" y="167.90" width="1.1" height="0.45"/><rect x="411.50" y="160.30" width="0.45" height="1.1"/><rect x="411.50" y="183.00" width="0.45" height="1.1"/><rect x="403.00" y="169.40" width="1.1" height="0.45"/><rect x="424.50" y="169.40" width="1.1" height="0.45"/><rect x="413.00" y="160.30" width="0.45" height="1.1"/><rect x="413.00" y="183.00" width="0.45" height="1.1"/><rect x="403.00" y="170.90" width="1.1" height="0.45"/><rect x="424.50" y="170.90" width="1.1" height="0.45"/><rect x="414.50" y="160.30" width="0.45" height="1.1"/><rect x="414.50" y="183.00" width="0.45" height="1.1"/><rect x="403.00" y="172.40" width="1.1" height="0.45"/><rect x="424.50" y="172.40" width="1.1" height="0.45"/><rect x="416.00" y="160.30" width="0.45" height="1.1"/><rect x="416.00" y="183.00" width="0.45" height="1.1"/><rect x="403.00" y="173.90" width="1.1" height="0.45"/><rect x="424.50" y="173.90" width="1.1" height="0.45"/><rect x="417.50" y="160.30" width="0.45" height="1.1"/><rect x="417.50" y="183.00" width="0.45" height="1.1"/><rect x="403.00" y="175.40" width="1.1" height="0.45"/><rect x="424.50" y="175.40" width="1.1" height="0.45"/><rect x="419.00" y="160.30" width="0.45" height="1.1"/><rect x="419.00" y="183.00" width="0.45" height="1.1"/><rect x="403.00" y="176.90" width="1.1" height="0.45"/><rect x="424.50" y="176.90" width="1.1" height="0.45"/><rect x="420.50" y="160.30" width="0.45" height="1.1"/><rect x="420.50" y="183.00" width="0.45" height="1.1"/><rect x="403.00" y="178.40" width="1.1" height="0.45"/><rect x="424.50" y="178.40" width="1.1" height="0.45"/></g><rect x="408.70" y="166.60" width="11.2" height="11.2" fill="none" stroke="#aaa" stroke-width="0.6"/><rect x="409.60" y="167.50" width="9.4" height="9.4" fill="#fff"/>
<path d="M407.80,353.90 H421.00 V357.50 H422.00 V358.50 H425.80 V371.70 H422.00 V372.70 H421.00 V376.30 H407.80 V372.70 H406.80 V371.70 H403.00 V358.50 H406.80 V357.50 H407.80 Z" fill="#111"/><rect x="406.80" y="357.50" width="15.20" height="15.20" fill="#111"/><g fill="#fff"><rect x="408.60" y="353.90" width="0.45" height="1.1"/><rect x="408.60" y="375.20" width="0.45" height="1.1"/><rect x="403.00" y="359.30" width="1.1" height="0.45"/><rect x="424.70" y="359.30" width="1.1" height="0.45"/><rect x="410.10" y="353.90" width="0.45" height="1.1"/><rect x="410.10" y="375.20" width="0.45" height="1.1"/><rect x="403.00" y="360.80" width="1.1" height="0.45"/><rect x="424.70" y="360.80" width="1.1" height="0.45"/><rect x="411.60" y="353.90" width="0.45" height="1.1"/><rect x="411.60" y="375.20" width="0.45" height="1.1"/><rect x="403.00" y="362.30" width="1.1" height="0.45"/><rect x="424.70" y="362.30" width="1.1" height="0.45"/><rect x="413.10" y="353.90" width="0.45" height="1.1"/><rect x="413.10" y="375.20" width="0.45" height="1.1"/><rect x="403.00" y="363.80" width="1.1" height="0.45"/><rect x="424.70" y="363.80" width="1.1" height="0.45"/><rect x="414.60" y="353.90" width="0.45" height="1.1"/><rect x="414.60" y="375.20" width="0.45" height="1.1"/><rect x="403.00" y="365.30" width="1.1" height="0.45"/><rect x="424.70" y="365.30" width="1.1" height="0.45"/><rect x="416.10" y="353.90" width="0.45" height="1.1"/><rect x="416.10" y="375.20" width="0.45" height="1.1"/><rect x="403.00" y="366.80" width="1.1" height="0.45"/><rect x="424.70" y="366.80" width="1.1" height="0.45"/><rect x="417.60" y="353.90" width="0.45" height="1.1"/><rect x="417.60" y="375.20" width="0.45" height="1.1"/><rect x="403.00" y="368.30" width="1.1" height="0.45"/><rect x="424.70" y="368.30" width="1.1" height="0.45"/><rect x="419.10" y="353.90" width="0.45" height="1.1"/><rect x="419.10" y="375.20" width="0.45" height="1.1"/><rect x="403.00" y="369.80" width="1.1" height="0.45"/><rect x="424.70" y="369.80" width="1.1" height="0.45"/><rect x="420.60" y="353.90" width="0.45" height="1.1"/><rect x="420.60" y="375.20" width="0.45" height="1.1"/><rect x="403.00" y="371.30" width="1.1" height="0.45"/><rect x="424.70" y="371.30" width="1.1" height="0.45"/></g><rect x="408.80" y="359.50" width="11.2" height="11.2" fill="none" stroke="#aaa" stroke-width="0.6"/><rect x="409.70" y="360.40" width="9.4" height="9.4" fill="#fff"/>
<path d="M463,247.8 H516.3 V303.3 H460.4 V250.4 Q460.4,247.8 463,247.8 Z" fill="#fff" stroke="#111" stroke-width="1.3"/>
<g fill="#999" stroke="#111" stroke-width="1.05">
<circle cx="464.20" cy="250.30" r="1.2"/>
<circle cx="464.20" cy="253.75" r="1.2"/>
<circle cx="464.20" cy="257.70" r="1.2"/>
<circle cx="464.20" cy="261.15" r="1.2"/>
<circle cx="464.20" cy="265.10" r="1.2"/>
<circle cx="464.20" cy="268.55" r="1.2"/>
<circle cx="464.20" cy="272.50" r="1.2"/>
<circle cx="464.20" cy="275.95" r="1.2"/>
<circle cx="464.20" cy="279.90" r="1.2"/>
<circle cx="464.20" cy="283.35" r="1.2"/>
<circle cx="464.20" cy="287.30" r="1.2"/>
<circle cx="464.20" cy="290.75" r="1.2"/>
<circle cx="464.20" cy="294.70" r="1.2"/>
<circle cx="464.20" cy="298.15" r="1.2"/>
<circle cx="467.62" cy="250.30" r="1.2"/>
<circle cx="467.62" cy="253.75" r="1.2"/>
<circle cx="467.62" cy="257.70" r="1.2"/>
<circle cx="467.62" cy="261.15" r="1.2"/>
<circle cx="467.62" cy="265.10" r="1.2"/>
<circle cx="467.62" cy="268.55" r="1.2"/>
<circle cx="467.62" cy="272.50" r="1.2"/>
<circle cx="467.62" cy="275.95" r="1.2"/>
<circle cx="467.62" cy="279.90" r="1.2"/>
<circle cx="467.62" cy="283.35" r="1.2"/>
<circle cx="467.62" cy="287.30" r="1.2"/>
<circle cx="467.62" cy="290.75" r="1.2"/>
<circle cx="467.62" cy="294.70" r="1.2"/>
<circle cx="467.62" cy="298.15" r="1.2"/>
<circle cx="471.54" cy="250.30" r="1.2"/>
<circle cx="471.54" cy="253.75" r="1.2"/>
<circle cx="471.54" cy="257.70" r="1.2"/>
<circle cx="471.54" cy="261.15" r="1.2"/>
<circle cx="471.54" cy="265.10" r="1.2"/>
<circle cx="471.54" cy="268.55" r="1.2"/>
<circle cx="471.54" cy="272.50" r="1.2"/>
<circle cx="471.54" cy="275.95" r="1.2"/>
<circle cx="471.54" cy="279.90" r="1.2"/>
<circle cx="471.54" cy="283.35" r="1.2"/>
<circle cx="471.54" cy="287.30" r="1.2"/>
<circle cx="471.54" cy="290.75" r="1.2"/>
<circle cx="471.54" cy="294.70" r="1.2"/>
<circle cx="471.54" cy="298.15" r="1.2"/>
<circle cx="474.96" cy="250.30" r="1.2"/>
<circle cx="474.96" cy="253.75" r="1.2"/>
<circle cx="474.96" cy="257.70" r="1.2"/>
<circle cx="474.96" cy="261.15" r="1.2"/>
<circle cx="474.96" cy="265.10" r="1.2"/>
<circle cx="474.96" cy="268.55" r="1.2"/>
<circle cx="474.96" cy="272.50" r="1.2"/>
<circle cx="474.96" cy="275.95" r="1.2"/>
<circle cx="474.96" cy="279.90" r="1.2"/>
<circle cx="474.96" cy="283.35" r="1.2"/>
<circle cx="474.96" cy="287.30" r="1.2"/>
<circle cx="474.96" cy="290.75" r="1.2"/>
<circle cx="474.96" cy="294.70" r="1.2"/>
<circle cx="474.96" cy="298.15" r="1.2"/>
<circle cx="478.88" cy="250.30" r="1.2"/>
<circle cx="478.88" cy="253.75" r="1.2"/>
<circle cx="478.88" cy="257.70" r="1.2"/>
<circle cx="478.88" cy="261.15" r="1.2"/>
<circle cx="478.88" cy="287.30" r="1.2"/>
<circle cx="478.88" cy="290.75" r="1.2"/>
<circle cx="478.88" cy="294.70" r="1.2"/>
<circle cx="478.88" cy="298.15" r="1.2"/>
<circle cx="482.30" cy="250.30" r="1.2"/>
<circle cx="482.30" cy="253.75" r="1.2"/>
<circle cx="482.30" cy="257.70" r="1.2"/>
<circle cx="482.30" cy="261.15" r="1.2"/>
<circle cx="482.30" cy="287.30" r="1.2"/>
<circle cx="482.30" cy="290.75" r="1.2"/>
<circle cx="482.30" cy="294.70" r="1.2"/>
<circle cx="482.30" cy="298.15" r="1.2"/>
<circle cx="486.22" cy="250.30" r="1.2"/>
<circle cx="486.22" cy="253.75" r="1.2"/>
<circle cx="486.22" cy="257.70" r="1.2"/>
<circle cx="486.22" cy="261.15" r="1.2"/>
<circle cx="486.22" cy="287.30" r="1.2"/>
<circle cx="486.22" cy="290.75" r="1.2"/>
<circle cx="486.22" cy="294.70" r="1.2"/>
<circle cx="486.22" cy="298.15" r="1.2"/>
<circle cx="489.64" cy="250.30" r="1.2"/>
<circle cx="489.64" cy="253.75" r="1.2"/>
<circle cx="489.64" cy="257.70" r="1.2"/>
<circle cx="489.64" cy="261.15" r="1.2"/>
<circle cx="489.64" cy="287.30" r="1.2"/>
<circle cx="489.64" cy="290.75" r="1.2"/>
<circle cx="489.64" cy="294.70" r="1.2"/>
<circle cx="489.64" cy="298.15" r="1.2"/>
<circle cx="493.56" cy="250.30" r="1.2"/>
<circle cx="493.56" cy="253.75" r="1.2"/>
<circle cx="493.56" cy="257.70" r="1.2"/>
<circle cx="493.56" cy="261.15" r="1.2"/>
<circle cx="493.56" cy="287.30" r="1.2"/>
<circle cx="493.56" cy="290.75" r="1.2"/>
<circle cx="493.56" cy="294.70" r="1.2"/>
<circle cx="493.56" cy="298.15" r="1.2"/>
<circle cx="496.98" cy="250.30" r="1.2"/>
<circle cx="496.98" cy="253.75" r="1.2"/>
<circle cx="496.98" cy="257.70" r="1.2"/>
<circle cx="496.98" cy="261.15" r="1.2"/>
<circle cx="496.98" cy="287.30" r="1.2"/>
<circle cx="496.98" cy="290.75" r="1.2"/>
<circle cx="496.98" cy="294.70" r="1.2"/>
<circle cx="496.98" cy="298.15" r="1.2"/>
<circle cx="500.90" cy="250.30" r="1.2"/>
<circle cx="500.90" cy="253.75" r="1.2"/>
<circle cx="500.90" cy="257.70" r="1.2"/>
<circle cx="500.90" cy="261.15" r="1.2"/>
<circle cx="500.90" cy="265.10" r="1.2"/>
<circle cx="500.90" cy="268.55" r="1.2"/>
<circle cx="500.90" cy="272.50" r="1.2"/>
<circle cx="500.90" cy="275.95" r="1.2"/>
<circle cx="500.90" cy="279.90" r="1.2"/>
<circle cx="500.90" cy="283.35" r="1.2"/>
<circle cx="500.90" cy="287.30" r="1.2"/>
<circle cx="500.90" cy="290.75" r="1.2"/>
<circle cx="500.90" cy="294.70" r="1.2"/>
<circle cx="500.90" cy="298.15" r="1.2"/>
<circle cx="504.32" cy="250.30" r="1.2"/>
<circle cx="504.32" cy="253.75" r="1.2"/>
<circle cx="504.32" cy="257.70" r="1.2"/>
<circle cx="504.32" cy="261.15" r="1.2"/>
<circle cx="504.32" cy="265.10" r="1.2"/>
<circle cx="504.32" cy="268.55" r="1.2"/>
<circle cx="504.32" cy="272.50" r="1.2"/>
<circle cx="504.32" cy="275.95" r="1.2"/>
<circle cx="504.32" cy="279.90" r="1.2"/>
<circle cx="504.32" cy="283.35" r="1.2"/>
<circle cx="504.32" cy="287.30" r="1.2"/>
<circle cx="504.32" cy="290.75" r="1.2"/>
<circle cx="504.32" cy="294.70" r="1.2"/>
<circle cx="504.32" cy="298.15" r="1.2"/>
<circle cx="508.24" cy="250.30" r="1.2"/>
<circle cx="508.24" cy="253.75" r="1.2"/>
<circle cx="508.24" cy="257.70" r="1.2"/>
<circle cx="508.24" cy="261.15" r="1.2"/>
<circle cx="508.24" cy="265.10" r="1.2"/>
<circle cx="508.24" cy="268.55" r="1.2"/>
<circle cx="508.24" cy="272.50" r="1.2"/>
<circle cx="508.24" cy="275.95" r="1.2"/>
<circle cx="508.24" cy="279.90" r="1.2"/>
<circle cx="508.24" cy="283.35" r="1.2"/>
<circle cx="508.24" cy="287.30" r="1.2"/>
<circle cx="508.24" cy="290.75" r="1.2"/>
<circle cx="508.24" cy="294.70" r="1.2"/>
<circle cx="508.24" cy="298.15" r="1.2"/>
<circle cx="511.66" cy="250.30" r="1.2"/>
<circle cx="511.66" cy="253.75" r="1.2"/>
<circle cx="511.66" cy="257.70" r="1.2"/>
<circle cx="511.66" cy="261.15" r="1.2"/>
<circle cx="511.66" cy="265.10" r="1.2"/>
<circle cx="511.66" cy="268.55" r="1.2"/>
<circle cx="511.66" cy="272.50" r="1.2"/>
<circle cx="511.66" cy="275.95" r="1.2"/>
<circle cx="511.66" cy="279.90" r="1.2"/>
<circle cx="511.66" cy="283.35" r="1.2"/>
<circle cx="511.66" cy="287.30" r="1.2"/>
<circle cx="511.66" cy="290.75" r="1.2"/>
<circle cx="511.66" cy="294.70" r="1.2"/>
<circle cx="511.66" cy="298.15" r="1.2"/>
</g>
<g fill="#fff" stroke="#111" stroke-width="1.1">
<rect x="490" y="219.4" width="23.8" height="17.9" rx="1.2"/>
<rect x="492.5" y="218.3" width="18.5" height="20.1" rx="1"/>
<line x1="493.6" y1="219" x2="493.6" y2="237.8"/><line x1="497.4" y1="219" x2="497.4" y2="237.8"/>
<line x1="505.7" y1="219" x2="505.7" y2="237.8"/><line x1="509.8" y1="219" x2="509.8" y2="237.8"/>
</g>
<rect x="462.2" y="233.3" width="13.8" height="6.3" rx="0.8" fill="#111"/><rect x="463.40" y="235.05" width="2.2" height="2.8" fill="#fff"/><rect x="468.00" y="235.05" width="2.2" height="2.8" fill="#fff"/><rect x="472.60" y="235.05" width="2.2" height="2.8" fill="#fff"/>
<rect x="416.4" y="253.9" width="6.3" height="13.6" rx="2" fill="#111"/><rect x="418.35" y="255.07" width="2.4" height="2.2" fill="#fff"/><rect x="418.35" y="259.60" width="2.4" height="2.2" fill="#fff"/><rect x="418.35" y="264.13" width="2.4" height="2.2" fill="#fff"/>
<rect x="423.80" y="256.70" width="16.70" height="8.00" rx="0.8" fill="#fff" stroke="#111" stroke-width="1.2"/><rect x="425.20" y="258.10" width="13.90" height="5.20" fill="#111"/><rect x="426.50" y="258.70" width="4.35" height="4.00" fill="#fff" stroke="#999" stroke-width="0.4"/><rect x="433.45" y="258.70" width="4.35" height="4.00" fill="#fff" stroke="#999" stroke-width="0.4"/>
<rect x="443.3" y="258.3" width="12.3" height="5.7" rx="0.8" fill="#111"/><rect x="444.25" y="259.75" width="2.2" height="2.8" fill="#fff"/><rect x="448.35" y="259.75" width="2.2" height="2.8" fill="#fff"/><rect x="452.45" y="259.75" width="2.2" height="2.8" fill="#fff"/>
<rect x="425.4" y="267.1" width="14.8" height="7.4" rx="0.8" fill="#111"/><rect x="427" y="268.7" width="3.2" height="4.2" fill="#fff"/><rect x="435.3" y="268.7" width="3.2" height="4.2" fill="#fff"/><path d="M431.6,268.8 V272.8 M433.6,268.8 V272.8 M431.6,270.8 H433.6" stroke="#fff" stroke-width="0.8"/>
<rect x="441.8" y="264.9" width="5" height="24" rx="2" fill="#111"/><rect x="443.10" y="266.20" width="2.4" height="2.2" fill="#fff"/><rect x="443.10" y="271.00" width="2.4" height="2.2" fill="#fff"/><rect x="443.10" y="275.80" width="2.4" height="2.2" fill="#fff"/><rect x="443.10" y="280.60" width="2.4" height="2.2" fill="#fff"/><rect x="443.10" y="285.40" width="2.4" height="2.2" fill="#fff"/>
<rect x="416.4" y="277.1" width="6.3" height="12.3" rx="2" fill="#111"/><rect x="418.35" y="278.05" width="2.4" height="2.2" fill="#fff"/><rect x="418.35" y="282.15" width="2.4" height="2.2" fill="#fff"/><rect x="418.35" y="286.25" width="2.4" height="2.2" fill="#fff"/>
<rect x="423.80" y="278.60" width="16.70" height="8.00" rx="0.8" fill="#fff" stroke="#111" stroke-width="1.2"/><rect x="425.20" y="280.00" width="13.90" height="5.20" fill="#111"/><rect x="426.50" y="280.60" width="4.35" height="4.00" fill="#fff" stroke="#999" stroke-width="0.4"/><rect x="433.45" y="280.60" width="4.35" height="4.00" fill="#fff" stroke="#999" stroke-width="0.4"/>
<rect x="423.30" y="291.70" width="17.20" height="9.30" rx="0.8" fill="#fff" stroke="#111" stroke-width="1.2"/><rect x="424.70" y="293.10" width="14.40" height="6.50" fill="#111"/><rect x="426.00" y="293.70" width="4.60" height="5.30" fill="#fff" stroke="#999" stroke-width="0.4"/><rect x="433.20" y="293.70" width="4.60" height="5.30" fill="#fff" stroke="#999" stroke-width="0.4"/>
<rect x="442" y="290.2" width="5.2" height="13.2" rx="2" fill="#111"/><rect x="443.40" y="291.30" width="2.4" height="2.2" fill="#fff"/><rect x="443.40" y="295.70" width="2.4" height="2.2" fill="#fff"/><rect x="443.40" y="300.10" width="2.4" height="2.2" fill="#fff"/>
<rect x="447.3" y="290.2" width="5.2" height="13.2" rx="2" fill="#111"/><rect x="448.70" y="291.30" width="2.4" height="2.2" fill="#fff"/><rect x="448.70" y="295.70" width="2.4" height="2.2" fill="#fff"/><rect x="448.70" y="300.10" width="2.4" height="2.2" fill="#fff"/>
<rect x="523" y="250.5" width="5.2" height="12" rx="2" fill="#111"/><rect x="524.40" y="252.40" width="2.4" height="2.2" fill="#fff"/><rect x="524.40" y="258.40" width="2.4" height="2.2" fill="#fff"/>
<rect x="528.6" y="250.5" width="5.2" height="12" rx="2" fill="#111"/><rect x="530.00" y="252.40" width="2.4" height="2.2" fill="#fff"/><rect x="530.00" y="258.40" width="2.4" height="2.2" fill="#fff"/>
<rect x="534.8" y="248.8" width="6.1" height="13.4" rx="1" fill="#111" stroke="#111" stroke-width="1.2"/><rect x="536.3" y="250.6" width="3.1" height="2.4" fill="#fff"/><rect x="536.3" y="254.2" width="3.1" height="3.4" fill="#ccc"/><rect x="536.3" y="258.8" width="3.1" height="2.2" fill="#fff"/>
<rect x="541.8" y="251" width="11.9" height="10.7" fill="#111"/><rect x="543.3" y="252.5" width="3.5" height="3" fill="#fff"/><rect x="548.5" y="252.5" width="3.5" height="3" fill="#fff"/><rect x="543.3" y="257.2" width="3.5" height="3" fill="#fff"/><rect x="548.5" y="257.2" width="3.5" height="3" fill="#fff"/>
<rect x="523" y="264" width="5.3" height="11.6" rx="2" fill="#111"/><rect x="524.45" y="264.83" width="2.4" height="2.2" fill="#fff"/><rect x="524.45" y="268.70" width="2.4" height="2.2" fill="#fff"/><rect x="524.45" y="272.57" width="2.4" height="2.2" fill="#fff"/>
<rect x="529.60" y="265.00" width="19.50" height="9.00" rx="0.8" fill="#fff" stroke="#111" stroke-width="1.2"/><rect x="531.00" y="266.40" width="16.70" height="6.20" fill="#111"/><rect x="532.30" y="267.00" width="5.75" height="5.00" fill="#fff" stroke="#999" stroke-width="0.4"/><rect x="540.65" y="267.00" width="5.75" height="5.00" fill="#fff" stroke="#999" stroke-width="0.4"/>
<rect x="523" y="277.6" width="12.4" height="5.5" rx="0.8" fill="#111"/><rect x="523.97" y="278.95" width="2.2" height="2.8" fill="#fff"/><rect x="528.10" y="278.95" width="2.2" height="2.8" fill="#fff"/><rect x="532.23" y="278.95" width="2.2" height="2.8" fill="#fff"/>
<rect x="446.9" y="359.6" width="43.5" height="10.9" fill="#fff" stroke="#111" stroke-width="1.3"/><rect x="449.10" y="361.85" width="6.4" height="6.4" fill="#fff" stroke="#111" stroke-width="1"/><circle cx="452.30" cy="365.05" r="1.3" fill="#fff" stroke="#333" stroke-width="0.9"/><circle cx="463.30" cy="365.05" r="3.1" fill="#fff" stroke="#111" stroke-width="1.5"/><circle cx="463.30" cy="365.05" r="1.3" fill="#fff" stroke="#333" stroke-width="0.9"/><circle cx="474.30" cy="365.05" r="3.1" fill="#fff" stroke="#111" stroke-width="1.5"/><circle cx="474.30" cy="365.05" r="1.3" fill="#fff" stroke="#333" stroke-width="0.9"/><circle cx="485.30" cy="365.05" r="3.1" fill="#fff" stroke="#111" stroke-width="1.5"/><circle cx="485.30" cy="365.05" r="1.3" fill="#fff" stroke="#333" stroke-width="0.9"/>
<rect x="446.9" y="386.3" width="87.5" height="10.9" fill="#fff" stroke="#111" stroke-width="1.3"/><rect x="449.10" y="388.55" width="6.4" height="6.4" fill="#fff" stroke="#111" stroke-width="1"/><circle cx="452.30" cy="391.75" r="1.3" fill="#fff" stroke="#333" stroke-width="0.9"/><circle cx="463.30" cy="391.75" r="3.1" fill="#fff" stroke="#111" stroke-width="1.5"/><circle cx="463.30" cy="391.75" r="1.3" fill="#fff" stroke="#333" stroke-width="0.9"/><circle cx="474.30" cy="391.75" r="3.1" fill="#fff" stroke="#111" stroke-width="1.5"/><circle cx="474.30" cy="391.75" r="1.3" fill="#fff" stroke="#333" stroke-width="0.9"/><circle cx="485.30" cy="391.75" r="3.1" fill="#fff" stroke="#111" stroke-width="1.5"/><circle cx="485.30" cy="391.75" r="1.3" fill="#fff" stroke="#333" stroke-width="0.9"/><circle cx="496.30" cy="391.75" r="3.1" fill="#fff" stroke="#111" stroke-width="1.5"/><circle cx="496.30" cy="391.75" r="1.3" fill="#fff" stroke="#333" stroke-width="0.9"/><circle cx="507.30" cy="391.75" r="3.1" fill="#fff" stroke="#111" stroke-width="1.5"/><circle cx="507.30" cy="391.75" r="1.3" fill="#fff" stroke="#333" stroke-width="0.9"/><circle cx="518.30" cy="391.75" r="3.1" fill="#fff" stroke="#111" stroke-width="1.5"/><circle cx="518.30" cy="391.75" r="1.3" fill="#fff" stroke="#333" stroke-width="0.9"/><circle cx="529.30" cy="391.75" r="3.1" fill="#fff" stroke="#111" stroke-width="1.5"/><circle cx="529.30" cy="391.75" r="1.3" fill="#fff" stroke="#333" stroke-width="0.9"/>
<g fill="#fff" stroke="#111" stroke-width="1.1">
<rect x="499.2" y="347.4" width="9" height="2.6" rx="1.2"/>
<rect x="522" y="347.4" width="9.8" height="2.6" rx="1.2"/>
<rect x="499.2" y="352.8" width="9" height="2.6" rx="1.2"/>
<rect x="522" y="352.8" width="9.8" height="2.6" rx="1.2"/>
<rect x="499.2" y="358.5" width="9" height="2.6" rx="1.2"/>
<rect x="522" y="358.5" width="9.8" height="2.6" rx="1.2"/>
<rect x="499.2" y="364.0" width="9" height="2.6" rx="1.2"/>
<rect x="522" y="364.0" width="9.8" height="2.6" rx="1.2"/>
<path d="M507.5,345.8 H511.6 A3.5,3.5 0 0 0 518.6,345.8 H522.8 V367.9 H507.5 Z" stroke-width="1.3"/>
<line x1="510.1" y1="346.5" x2="510.1" y2="367.5" stroke="#777"/><line x1="520.6" y1="346.5" x2="520.6" y2="367.5" stroke="#777"/>
</g>
<circle cx="496.8" cy="348.7" r="0.9" fill="#111"/>
<rect x="500" y="337" width="13.8" height="6.8" rx="1" fill="#111"/><circle cx="503.8" cy="340.4" r="1.2" fill="#fff"/><circle cx="510" cy="340.4" r="1.2" fill="#fff"/><rect x="506.3" y="338.6" width="1.2" height="3.6" fill="#fff"/>
<rect x="515.3" y="330.5" width="6.3" height="13.3" rx="2" fill="#111"/><rect x="517.25" y="331.62" width="2.4" height="2.2" fill="#fff"/><rect x="517.25" y="336.05" width="2.4" height="2.2" fill="#fff"/><rect x="517.25" y="340.48" width="2.4" height="2.2" fill="#fff"/>
<rect x="336.3" y="460.40" width="13.4" height="5.9" rx="2.9" fill="#111"/>
<circle cx="339.8" cy="463.30" r="1.3" fill="#fff"/><circle cx="346.3" cy="463.30" r="1.3" fill="#fff"/><rect x="342.3" y="461.70" width="1.8" height="3.2" fill="#fff"/>
<rect x="336.3" y="465.98" width="13.4" height="5.9" rx="2.9" fill="#111"/>
<circle cx="339.8" cy="468.88" r="1.3" fill="#fff"/><circle cx="346.3" cy="468.88" r="1.3" fill="#fff"/><rect x="342.3" y="467.28" width="1.8" height="3.2" fill="#fff"/>
<rect x="336.3" y="471.56" width="13.4" height="5.9" rx="2.9" fill="#111"/>
<circle cx="339.8" cy="474.46" r="1.3" fill="#fff"/><circle cx="346.3" cy="474.46" r="1.3" fill="#fff"/><rect x="342.3" y="472.86" width="1.8" height="3.2" fill="#fff"/>
<rect x="336.3" y="477.14" width="13.4" height="5.9" rx="2.9" fill="#111"/>
<circle cx="339.8" cy="480.04" r="1.3" fill="#fff"/><circle cx="346.3" cy="480.04" r="1.3" fill="#fff"/><rect x="342.3" y="478.44" width="1.8" height="3.2" fill="#fff"/>
<rect x="336.3" y="482.72" width="13.4" height="5.9" rx="2.9" fill="#111"/>
<circle cx="339.8" cy="485.62" r="1.3" fill="#fff"/><circle cx="346.3" cy="485.62" r="1.3" fill="#fff"/><rect x="342.3" y="484.02" width="1.8" height="3.2" fill="#fff"/>
<rect x="336.6" y="489.4" width="12.9" height="6" rx="0.8" fill="#111"/><rect x="338" y="490.6" width="10.1" height="3.6" fill="#777"/><rect x="340" y="491" width="1" height="2.8" fill="#222"/><rect x="343" y="491" width="1" height="2.8" fill="#222"/><rect x="345.5" y="491" width="1" height="2.8" fill="#222"/>
<rect x="391.6" y="313.4" width="12.3" height="12.3" rx="1.2" fill="#111"/>
<rect x="393.8" y="315.8" width="2" height="2.2" fill="#fff"/>
<rect x="393.8" y="321.2" width="2" height="2.2" fill="#fff"/>
<rect x="397.0" y="315.8" width="2" height="2.2" fill="#fff"/>
<rect x="397.0" y="321.2" width="2" height="2.2" fill="#fff"/>
<rect x="400.2" y="315.8" width="2" height="2.2" fill="#fff"/>
<rect x="400.2" y="321.2" width="2" height="2.2" fill="#fff"/>
<rect x="358.6" y="473.6" width="30.2" height="13.9" rx="1.5" fill="#fff" stroke="#111" stroke-width="1.3"/>
<rect x="360.8" y="475.6" width="9.6" height="9.6" fill="#fff" stroke="#111" stroke-width="1.3"/>
<rect x="376.1" y="475.6" width="9.3" height="9.6" fill="#fff" stroke="#111" stroke-width="1.3"/>
<circle cx="363.4" cy="490.4" r="0.8" fill="#111"/>
<defs><filter id="sh" x="-30%" y="-30%" width="160%" height="160%"><feGaussianBlur stdDeviation="1.2"/></filter></defs>
<rect x="565.5" y="16" width="23.3" height="23.3" fill="#000" opacity="0.12" filter="url(#sh)"/>
<rect x="565.5" y="15.2" width="23.3" height="23.3" fill="#fff" stroke="#e2e2e2" stroke-width="1"/>
<path d="M570,23 V20.2 H572.8 M581,20.2 H583.8 V23 M583.8,31 V33.8 H581 M572.8,33.8 H570 V31" fill="none" stroke="#555" stroke-width="1"/>
<rect x="572.1" y="22.1" width="9.8" height="9.8" rx="0.8" fill="#5a5a5a"/>
<rect x="573.1" y="23" width="7.8" height="1.2" fill="#f07a70"/>
<rect x="573.1" y="24.2" width="7.8" height="1" fill="#fff"/>
<g fill="#fff">
<rect x="573.1" y="26.0" width="2.1" height="2.1"/>
<rect x="573.1" y="29.0" width="2.1" height="2.1"/>
<rect x="576.0" y="26.0" width="2.1" height="2.1"/>
<rect x="576.0" y="29.0" width="2.1" height="2.1"/>
<rect x="578.9" y="26.0" width="2.1" height="2.1"/>
<rect x="578.9" y="29.0" width="2.1" height="2.1"/>
</g>
</svg></body></html>
